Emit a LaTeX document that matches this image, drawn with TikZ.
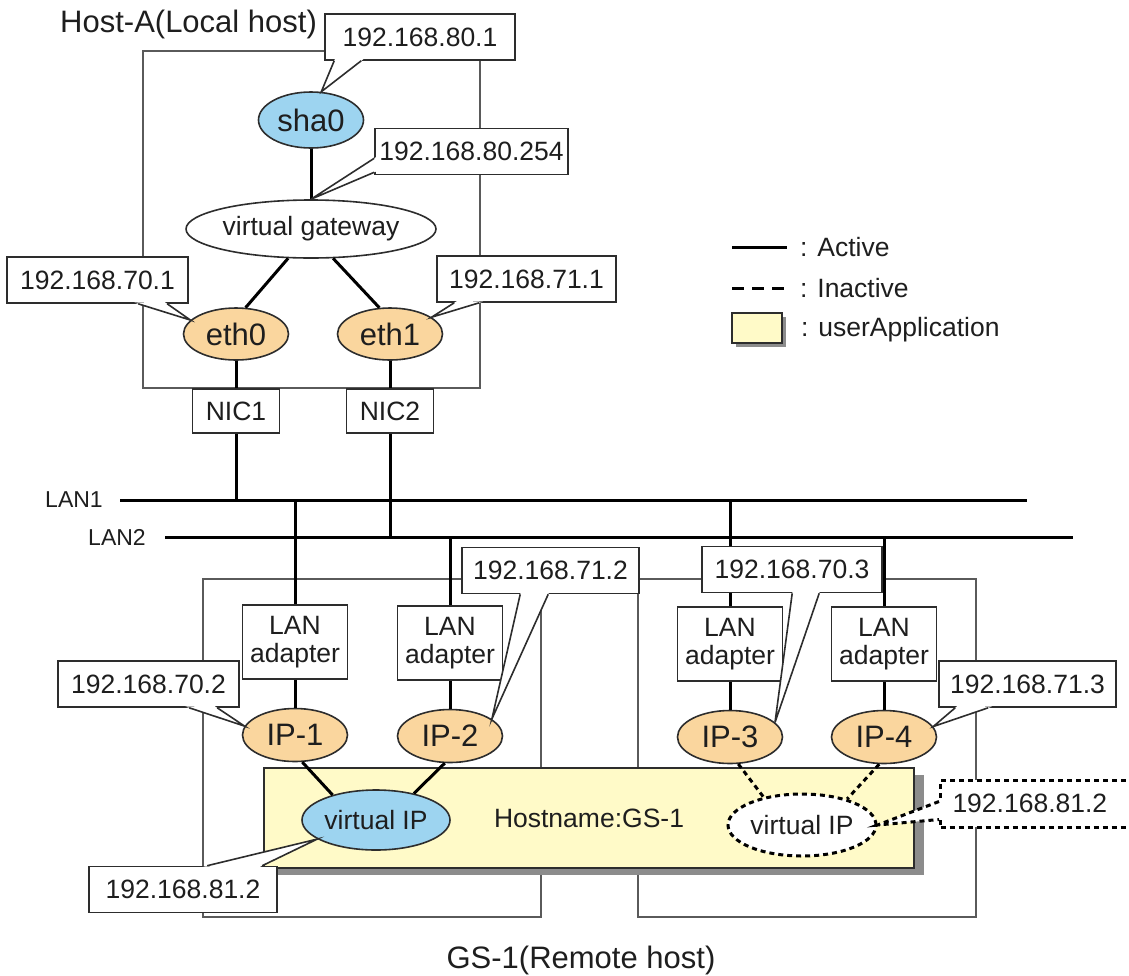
\documentclass[tikz,border=0pt]{standalone}
\usepackage{fontspec}
\setmainfont{Liberation Sans}
\usepackage{tikz}
\usetikzlibrary{arrows.meta,positioning,calc,shapes.geometric,shadows}

\definecolor{ifcolor}{RGB}{250,214,158}
\definecolor{vcolor}{RGB}{157,212,240}
\definecolor{appcolor}{RGB}{255,250,200}
\definecolor{framegray}{RGB}{90,90,90}
\definecolor{edgegray}{RGB}{45,45,45}
\definecolor{shadegray}{RGB}{140,140,140}
\definecolor{inkcolor}{RGB}{30,30,30}

\newcommand{\fntsmall}{\fontsize{26.5}{28}\selectfont}
\newcommand{\fntbig}{\fontsize{31}{32}\selectfont}
\newcommand{\fnttitle}{\fontsize{31}{34}\selectfont}
\newcommand{\fntlan}{\fontsize{23}{26}\selectfont}

% pointer of an address tag: two base points on the tag, then the tip
\newcommand{\tagpointer}[4][]{%
  \coordinate (tpa) at (#2);
  \coordinate (tpb) at (#3);
  \fill[white] ($(tpa)!-4pt!(#4)$) -- (#4) -- ($(tpb)!-4pt!(#4)$) -- cycle;
  \draw[tagedge,#1] (tpa) -- (#4) -- (tpb);
}

\begin{document}
\begin{tikzpicture}[
    x=1pt, y=-1pt,
    every node/.style={text=inkcolor},
    frame/.style={draw=framegray, line width=2pt, minimum width=338pt, minimum height=338pt, inner sep=0pt},
    ipbox/.style={draw=edgegray, fill=white, line width=1.6pt, minimum width=181pt, minimum height=46pt, inner xsep=4pt, inner ysep=0pt, font=\fntsmall},
    hwbox/.style={draw=edgegray, fill=white, line width=1.6pt, minimum width=105pt, minimum height=74pt, inner sep=0pt, align=center, font=\fntsmall},
    nicbox/.style={hwbox, minimum width=87pt, minimum height=44pt},
    ifnode/.style={ellipse, draw=edgegray, fill=ifcolor, line width=1.6pt, minimum width=105pt, minimum height=53pt, inner sep=0pt, font=\fntbig},
    vnode/.style={ellipse, draw=edgegray, fill=vcolor, line width=1.6pt, inner sep=0pt, font=\fntsmall},
    appbox/.style={draw=edgegray, fill=appcolor, line width=1.6pt, inner sep=0pt, font=\fntsmall},
    active/.style={draw=black, line width=3pt},
    inactive/.style={draw=black, line width=3pt, dash pattern=on 5pt off 4pt},
    tagedge/.style={draw=edgegray, line width=1.6pt}
]
\useasboundingbox (0,0) rectangle (1129,975);

% host and remote frames
\node[frame, minimum width=337pt, minimum height=337pt] (hostA) at (311.5,219.5) {};
\node[frame] (gsleft) at (372,748) {};
\node[frame] (gsright) at (807,748) {};

% LANs
\coordinate (lan1w) at (120,500);
\coordinate (lan1e) at (1027,500);
\coordinate (lan2w) at (165,537);
\coordinate (lan2e) at (1073,537);
\draw[active] (lan1w) -- (lan1e);
\draw[active] (lan2w) -- (lan2e);
\node[font=\fntlan] (lan1lbl) at (74,500) {LAN1};
\node[font=\fntlan] (lan2lbl) at (117,537) {LAN2};

% userApplication
\node[appbox, minimum width=650pt, minimum height=100pt,
      drop shadow={shadow xshift=10pt, shadow yshift=-7pt, fill=shadegray, opacity=1}] (app) at (589,818) {Hostname:GS-1};

% Host-A
\node[vnode, minimum width=105pt, minimum height=56pt, font=\fntbig] (sha0) at (311,120) {sha0};
\node[ellipse, draw=edgegray, fill=white, line width=1.6pt, minimum width=213pt, minimum height=58pt, inner sep=0pt, font=\fntsmall] (vgw) at (311,229) {virtual gateway};
\node[ifnode, minimum height=52pt] (eth0) at (236,334) {eth0};
\node[ifnode, minimum height=52pt] (eth1) at (390,334) {eth1};
\node[nicbox] (nic1) at (236,411) {NIC1};
\node[nicbox] (nic2) at (390,411) {NIC2};

% GS-1
\node[hwbox] (la1) at (295,642) {LAN\\adapter};
\node[hwbox] (la2) at (450,643) {LAN\\adapter};
\node[hwbox] (la3) at (730,644) {LAN\\adapter};
\node[hwbox] (la4) at (884,644) {LAN\\adapter};
\node[ifnode] (ip1) at (295,735) {IP-1};
\node[ifnode] (ip2) at (450,736) {IP-2};
\node[ifnode] (ip3) at (730,737) {IP-3};
\node[ifnode] (ip4) at (884,737) {IP-4};
\node[vnode, minimum width=148pt, minimum height=60pt] (vipa) at (376,820) {virtual IP};
\node[ellipse, inactive, fill=white, minimum width=148pt, minimum height=62pt, inner sep=0pt, font=\fntsmall] (vipb) at (802,825) {virtual IP};

% connections
\draw[active] (sha0) -- (vgw);
\draw[active] (vgw.-128) -- (eth0.70);
\draw[active] (vgw.-53) -- (eth1.112);
\draw[active] (eth0) -- (nic1);
\draw[active] (eth1) -- (nic2);
\draw[active] (nic1) -- (nic1 |- lan1w);
\draw[active] (nic2) -- (nic2 |- lan2w);
\draw[active] (la1) -- (la1 |- lan1w);
\draw[active] (la2) -- (la2 |- lan2w);
\draw[active] (la3) -- (la3 |- lan1w);
\draw[active] (la4) -- (la4 |- lan2w);
\draw[active] (la1) -- (ip1);
\draw[active] (la2) -- (ip2);
\draw[active] (la3) -- (ip3);
\draw[active] (la4) -- (ip4);
\draw[active] (ip1.-75) -- (vipa.150);
\draw[active] (ip2.-101) -- (vipa.35);
\draw[inactive] (ip3.-73) -- (vipb.144);
\draw[inactive] (ip4.-100) -- (vipb.30);

% address tags
\node[ipbox, minimum width=190pt] (c801) at (420,37) {192.168.80.1};
\tagpointer{$(c801.south west)+(10,0)$}{$(c801.south west)+(37,0)$}{sha0.70}
\node[ipbox, minimum width=193pt] (c80254) at (471.5,151.5) {192.168.80.254};
\tagpointer{$(c80254.south west)+(0,-17)$}{$(c80254.south west)+(0,-3)$}{vgw.north}
\node[ipbox] (c701) at (97.5,280) {192.168.70.1};
\tagpointer{$(c701.south west)+(132,0)$}{$(c701.south west)+(161,0)$}{eth0.163}
\node[ipbox, minimum width=179pt] (c711) at (526.5,279) {192.168.71.1};
\tagpointer{$(c711.south west)+(18,0)$}{$(c711.south west)+(43,0)$}{eth1.22}
\node[ipbox] (c702) at (148.5,684) {192.168.70.2};
\tagpointer{$(c702.south west)+(132,0)$}{$(c702.south west)+(160,0)$}{ip1.170}
\node[ipbox, minimum width=177pt] (c712) at (550.5,570.5) {192.168.71.2};
\tagpointer{$(c712.south west)+(59,0)$}{$(c712.south west)+(87,0)$}{ip2.22}
\node[ipbox, minimum width=180pt] (c703) at (792,569.5) {192.168.70.3};
\tagpointer{$(c703.south west)+(91,0)$}{$(c703.south west)+(118,0)$}{ip3.18}
\node[ipbox, minimum width=177pt] (c713) at (1027.5,684) {192.168.71.3};
\tagpointer{$(c713.south west)+(17,0)$}{$(c713.south west)+(50,0)$}{ip4.12}
\node[ipbox, minimum width=188pt] (c812a) at (183,889.5) {192.168.81.2};
\tagpointer{$(c812a.north west)+(119,0)$}{$(c812a.north west)+(174,0)$}{vipa.198}
\node[ipbox, inactive, minimum width=195pt, minimum height=47pt, text width=180pt, align=left, inner xsep=12pt] (c812b) at (1042.5,803.5) {192.168.81.2};
\tagpointer[inactive]{$(c812b.south west)+(0,-27)$}{$(c812b.south west)+(0,-9)$}{vipb.east}

% legend
\coordinate (keyA1) at (732,247);
\coordinate (keyA2) at (787,247);
\coordinate (keyB1) at (732,288);
\coordinate (keyB2) at (787,288);
\draw[active] (keyA1) -- (keyA2);
\draw[inactive, dash pattern=on 12pt off 8pt] (keyB1) -- (keyB2);
\node[appbox, minimum width=50pt, minimum height=30pt,
      drop shadow={shadow xshift=4pt, shadow yshift=-4pt, fill=shadegray, opacity=1}] (keyC) at (757,328) {};
\node[anchor=west, inner sep=0pt, font=\fntsmall] (keyAt) at (800,247) {: Active};
\node[anchor=west, inner sep=0pt, font=\fntsmall] (keyBt) at (800,288) {: Inactive};
\node[anchor=west, inner sep=0pt, font=\fntsmall] (keyCt) at (801,330) {: userApplication};

% host titles
\node[anchor=west, inner sep=0pt, font=\fnttitle] (hostAlbl) at (60,24) {Host-A(Local host)};
\node[font=\fnttitle] (gslbl) at (581,960) {GS-1(Remote host)};
\end{tikzpicture}
\end{document}
